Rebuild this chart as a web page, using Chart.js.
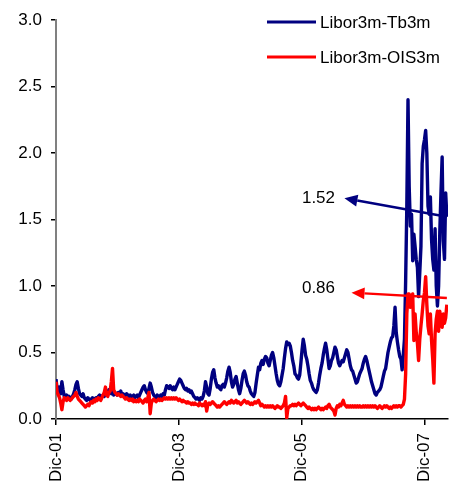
<!DOCTYPE html>
<html>
<head>
<meta charset="utf-8">
<script src="https://cdn.jsdelivr.net/npm/chart.js@4.4.0/dist/chart.umd.min.js"></script>
<style>
  html, body { margin: 0; padding: 0; background: #fff; }
  #wrap { width: 453px; height: 485px; position: relative; }
</style>
</head>
<body>
<div id="wrap"><canvas id="myChart"></canvas></div>
<script>
/* data: weekly readings, week 0 = Dec 2001 */

const seriesNames = ['Libor3m-Tb3m', 'Libor3m-OIS3m'];

const libTb3m = [
  0.30, 0.22, 0.20, 0.24, 0.19, 0.28, 0.22, 0.17, 0.16, 0.18,
  0.15, 0.17, 0.16, 0.15, 0.17, 0.19, 0.22, 0.26, 0.28, 0.23,
  0.19, 0.18, 0.17, 0.19, 0.16, 0.15, 0.14, 0.16, 0.15, 0.14,
  0.15, 0.16, 0.14, 0.15, 0.16, 0.15, 0.17, 0.18, 0.16, 0.17,
  0.18, 0.17, 0.20, 0.21, 0.19, 0.22, 0.20, 0.19, 0.21, 0.18,
  0.20, 0.19, 0.18, 0.20, 0.19, 0.21, 0.18, 0.19, 0.18, 0.17,
  0.19, 0.18, 0.17, 0.18, 0.16, 0.17, 0.18, 0.16, 0.17, 0.18,
  0.16, 0.18, 0.20, 0.22, 0.24, 0.25, 0.22, 0.20, 0.19, 0.23,
  0.27, 0.24, 0.20, 0.18, 0.17, 0.16, 0.18, 0.17, 0.16, 0.18,
  0.17, 0.19, 0.18, 0.22, 0.25, 0.24, 0.23, 0.25, 0.23, 0.22,
  0.24, 0.22, 0.24, 0.26, 0.28, 0.30, 0.29, 0.27, 0.25, 0.23,
  0.22, 0.23, 0.21, 0.22, 0.20, 0.21, 0.19, 0.17, 0.16, 0.15,
  0.16, 0.15, 0.14, 0.16, 0.15, 0.17, 0.21, 0.28, 0.24, 0.19,
  0.18, 0.23, 0.30, 0.35, 0.37, 0.31, 0.27, 0.24, 0.25, 0.23,
  0.22, 0.25, 0.26, 0.24, 0.27, 0.31, 0.36, 0.39, 0.35, 0.28,
  0.24, 0.26, 0.30, 0.32, 0.27, 0.22, 0.19, 0.23, 0.29, 0.34,
  0.36, 0.33, 0.28, 0.25, 0.24, 0.21, 0.19, 0.18, 0.17, 0.20,
  0.27, 0.33, 0.39, 0.37, 0.42, 0.44, 0.41, 0.45, 0.47, 0.46,
  0.42, 0.40, 0.44, 0.48, 0.50, 0.46, 0.40, 0.34, 0.29, 0.26,
  0.25, 0.28, 0.33, 0.38, 0.46, 0.53, 0.58, 0.56, 0.57, 0.55,
  0.50, 0.44, 0.40, 0.34, 0.33, 0.31, 0.30, 0.33, 0.42, 0.52,
  0.60, 0.55, 0.48, 0.45, 0.40, 0.34, 0.29, 0.27, 0.24, 0.22,
  0.21, 0.20, 0.22, 0.27, 0.33, 0.38, 0.42, 0.48, 0.53, 0.57,
  0.52, 0.45, 0.38, 0.40, 0.44, 0.46, 0.50, 0.54, 0.52, 0.47,
  0.42, 0.40, 0.42, 0.44, 0.43, 0.46, 0.49, 0.52, 0.50, 0.45,
  0.40, 0.37, 0.36, 0.33, 0.30, 0.27, 0.28, 0.31, 0.34, 0.36,
  0.38, 0.42, 0.45, 0.47, 0.44, 0.40, 0.36, 0.32, 0.28, 0.25,
  0.22, 0.19, 0.18, 0.20, 0.21, 0.22, 0.24, 0.28, 0.32, 0.36,
  0.38, 0.44, 0.50, 0.54, 0.58, 0.61, 0.62, 0.70, 0.84, 0.65,
  0.58, 0.52, 0.47, 0.45, 0.37, 0.48, 0.60, 1.04, 1.60, 2.40,
  1.75, 1.45, 1.54, 1.19, 1.39, 1.30, 1.20, 1.14, 0.92, 1.10,
  1.30, 1.92, 2.05, 2.10, 2.17, 2.00, 1.60, 1.54, 1.67, 1.35,
  1.20, 1.12, 1.43, 1.00, 0.85, 1.00, 1.40, 1.70, 1.97, 1.34,
  1.20, 1.70, 1.52
];

const libOis3m = [
  0.28, 0.20, 0.18, 0.16, 0.12, 0.07, 0.13, 0.16, 0.15, 0.14,
  0.16, 0.15, 0.14, 0.15, 0.16, 0.17, 0.18, 0.20, 0.17, 0.15,
  0.14, 0.13, 0.12, 0.11, 0.10, 0.09, 0.10, 0.11, 0.10, 0.12,
  0.13, 0.12, 0.14, 0.13, 0.15, 0.14, 0.16, 0.15, 0.14, 0.16,
  0.18, 0.20, 0.24, 0.18, 0.17, 0.20, 0.21, 0.28, 0.38, 0.22,
  0.20, 0.19, 0.18, 0.19, 0.18, 0.17, 0.18, 0.17, 0.16, 0.15,
  0.16, 0.15, 0.14, 0.15, 0.14, 0.15, 0.13, 0.14, 0.13, 0.14,
  0.13, 0.15, 0.14, 0.13, 0.12, 0.14, 0.15, 0.13, 0.16, 0.20,
  0.04, 0.12, 0.14, 0.15, 0.14, 0.13, 0.14, 0.15, 0.14, 0.15,
  0.14, 0.15, 0.16, 0.15, 0.16, 0.15, 0.16, 0.15, 0.16, 0.15,
  0.16, 0.15, 0.16, 0.15, 0.14, 0.15, 0.14, 0.13, 0.14, 0.13,
  0.13, 0.12, 0.13, 0.12, 0.12, 0.11, 0.12, 0.11, 0.12, 0.11,
  0.11, 0.10, 0.12, 0.11, 0.10, 0.11, 0.10, 0.13, 0.06, 0.11,
  0.12, 0.11, 0.12, 0.13, 0.12, 0.11, 0.10, 0.09, 0.10, 0.09,
  0.10, 0.11, 0.12, 0.13, 0.12, 0.11, 0.12, 0.13, 0.12, 0.14,
  0.13, 0.12, 0.13, 0.14, 0.12, 0.13, 0.12, 0.11, 0.12, 0.13,
  0.14, 0.13, 0.12, 0.13, 0.12, 0.11, 0.12, 0.11, 0.12, 0.13,
  0.12, 0.13, 0.14, 0.12, 0.10, 0.11, 0.10, 0.09, 0.10, 0.09,
  0.10, 0.09, 0.10, 0.09, 0.10, 0.09, 0.08, 0.09, 0.10, 0.09,
  0.09, 0.08, 0.09, 0.10, 0.12, 0.17, 0.01, 0.08, 0.09, 0.10,
  0.10, 0.11, 0.10, 0.11, 0.10, 0.11, 0.12, 0.11, 0.10, 0.11,
  0.12, 0.11, 0.10, 0.09, 0.08, 0.09, 0.08, 0.07, 0.08, 0.07,
  0.08, 0.07, 0.08, 0.09, 0.08, 0.07, 0.08, 0.07, 0.08, 0.09,
  0.08, 0.10, 0.11, 0.09, 0.08, 0.07, 0.06, 0.03, 0.08, 0.10,
  0.09, 0.11, 0.10, 0.12, 0.14, 0.11, 0.10, 0.09, 0.10, 0.09,
  0.10, 0.09, 0.10, 0.09, 0.10, 0.09, 0.10, 0.09, 0.10, 0.09,
  0.09, 0.10, 0.09, 0.10, 0.09, 0.10, 0.09, 0.10, 0.09, 0.10,
  0.09, 0.10, 0.09, 0.08, 0.09, 0.10, 0.09, 0.08, 0.09, 0.10,
  0.09, 0.10, 0.09, 0.08, 0.09, 0.08, 0.09, 0.10, 0.09, 0.10,
  0.09, 0.10, 0.10, 0.09, 0.10, 0.11, 0.15, 0.34, 0.79, 0.94,
  0.94, 0.84, 0.90, 0.94, 0.59, 0.79, 0.65, 0.57, 0.44, 0.60,
  0.70, 0.79, 0.89, 0.95, 1.07, 0.86, 0.70, 0.64, 0.79, 0.59,
  0.45, 0.27, 0.64, 0.75, 0.81, 0.66, 0.81, 0.75, 0.69, 0.79,
  0.72, 0.76, 0.86
];

// x ticks (week index) and their labels
const tickWeeks = [0, 104.4, 208.7, 313.1];
const tickLabels = ['Dic-01', 'Dic-03', 'Dic-05', 'Dic-07'];

// callouts: label, arrow tail (week, value), arrow head, text anchor
const calloutText = ['1.52', '0.86'];
const calloutTail = [[332, 1.52], [332, 0.91]];
const calloutHead = [[245, 1.66], [251, 0.95]];
const calloutTextAt = [[237, 1.66], [237, 0.98]];

const colors = ['#000080', '#FF0000'];
const FONT = { family: "'Liberation Sans', Arial, sans-serif", size: 17 };

const toPoints = arr => arr.map((v, i) => ({ x: i, y: v }));

/* draw the legend box and the two arrows */
const overlay = {
  id: 'overlay',
  afterDraw(chart) {
    const ctx = chart.ctx;
    const xs = chart.scales.x;
    const ys = chart.scales.y;
    ctx.save();

    // arrows
    calloutText.forEach(function (txt, i) {
      const x1 = xs.getPixelForValue(calloutTail[i][0]);
      const y1 = ys.getPixelForValue(calloutTail[i][1]);
      const x2 = xs.getPixelForValue(calloutHead[i][0]);
      const y2 = ys.getPixelForValue(calloutHead[i][1]);
      const ang = Math.atan2(y2 - y1, x2 - x1);
      const len = 13, half = 6;
      const bx = x2 - Math.cos(ang) * len;
      const by = y2 - Math.sin(ang) * len;
      ctx.strokeStyle = colors[i];
      ctx.fillStyle = colors[i];
      ctx.lineWidth = 2.5;
      ctx.beginPath();
      ctx.moveTo(x1, y1);
      ctx.lineTo(bx, by);
      ctx.stroke();
      ctx.beginPath();
      ctx.moveTo(x2, y2);
      ctx.lineTo(bx + Math.sin(ang) * half, by - Math.cos(ang) * half);
      ctx.lineTo(bx - Math.sin(ang) * half, by + Math.cos(ang) * half);
      ctx.closePath();
      ctx.fill();

      ctx.fillStyle = '#000';
      ctx.font = FONT.size + 'px ' + FONT.family;
      ctx.textAlign = 'right';
      ctx.textBaseline = 'middle';
      ctx.fillText(txt, xs.getPixelForValue(calloutTextAt[i][0]), ys.getPixelForValue(calloutTextAt[i][1]));
    });

    // legend, top right
    chart.data.datasets.forEach(function (ds, i) {
      const y = 22 + i * 35;
      ctx.strokeStyle = ds.borderColor;
      ctx.lineWidth = 3;
      ctx.beginPath();
      ctx.moveTo(267, y);
      ctx.lineTo(316, y);
      ctx.stroke();
      ctx.fillStyle = '#000';
      ctx.textAlign = 'left';
      ctx.textBaseline = 'middle';
      ctx.font = FONT.size + 'px ' + FONT.family;
      ctx.fillText(ds.label, 320, y + 1);
    });
    ctx.restore();
  }
};

const ctx = document.getElementById('myChart').getContext('2d');

const chart = new Chart(ctx, {
  type: 'line',
  data: {
    datasets: [{
      label: seriesNames[0],
      data: toPoints(libTb3m),
      borderColor: colors[0],
      borderWidth: 3.4,
      order: 1
    },
    {
      label: seriesNames[1],
      data: toPoints(libOis3m),
      borderColor: colors[1],
      borderWidth: 3.4,
      order: 0
    }]
  },
  options: {
    responsive: true,
    maintainAspectRatio: false,
    animation: false,
    events: [],
    layout: { padding: { top: 20, right: 0, left: 0, bottom: 0 } },
    elements: {
      point: { radius: 0 },
      line: { tension: 0, borderJoinStyle: 'round', fill: false }
    },
    plugins: {
      legend: { display: false },
      tooltip: { enabled: false }
    },
    scales: {
      x: {
        type: 'linear',
        min: 0,
        max: 333,
        afterBuildTicks: function (s) {
          s.ticks = tickWeeks.map(v => ({ value: v }));
        },
        afterFit: function (s) { s.height = 66; },
        ticks: {
          autoSkip: false,
          minRotation: 90,
          maxRotation: 90,
          padding: 8,
          color: '#000',
          font: FONT,
          callback: (v, i) => tickLabels[i]
        },
        grid: { drawOnChartArea: false, tickLength: 6, color: '#000', lineWidth: 1.5 },
        border: { color: '#000', width: 1.5 }
      },
      y: {
        min: 0,
        max: 3,
        afterFit: function (s) { s.width = 56; },
        ticks: {
          stepSize: 0.5,
          padding: 9,
          color: '#000',
          font: FONT,
          callback: v => v.toFixed(1)
        },
        grid: { drawOnChartArea: false, tickLength: 5, color: '#000', lineWidth: 1.5 },
        border: { color: '#808080', width: 2 }
      }
    }
  },
  plugins: [overlay]
});
</script>
</body>
</html>
